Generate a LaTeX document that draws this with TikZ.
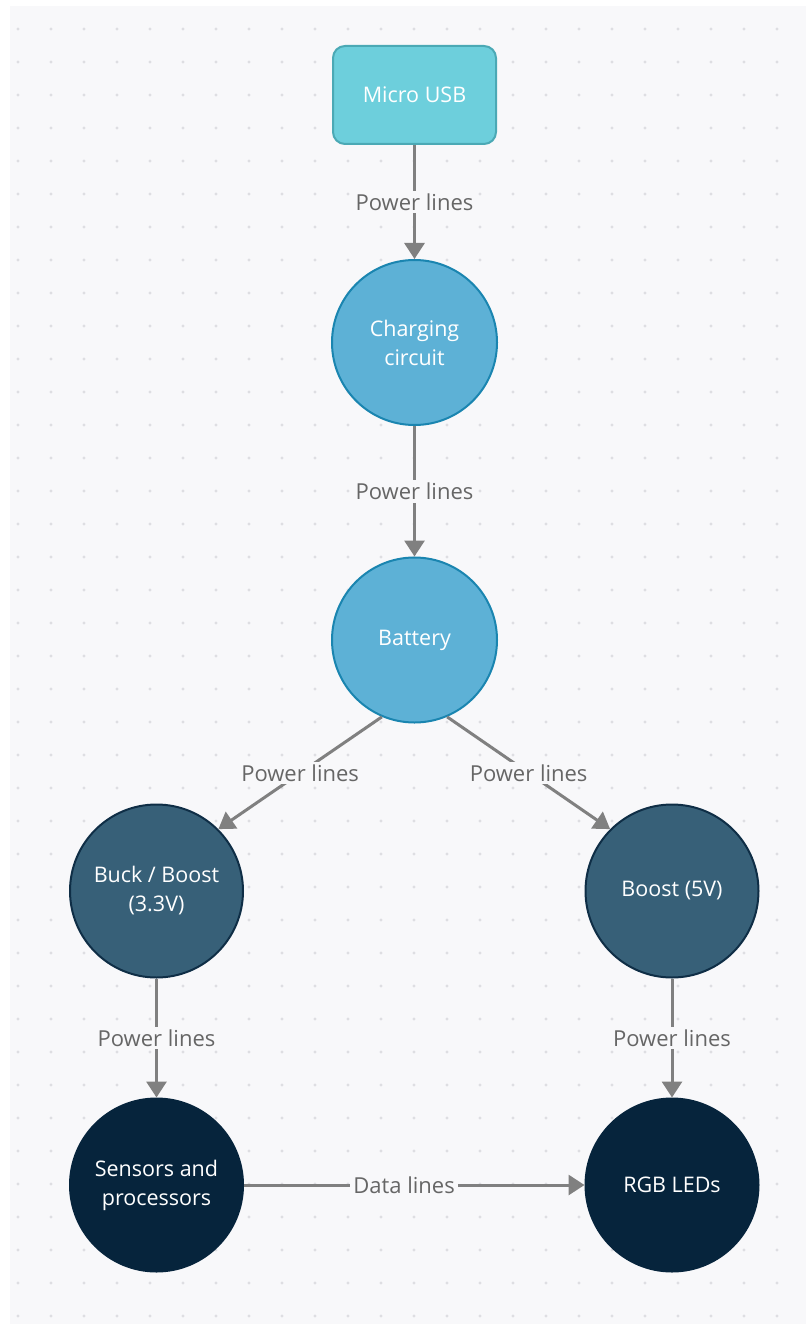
\documentclass[tikz,border=0pt]{standalone}
\usepackage{fontspec}
\setmainfont{Open Sans}
\usepackage{tikz}
\usetikzlibrary{positioning}
\usetikzlibrary{arrows.meta}
\definecolor{panelbg}{HTML}{F8F8FA}
\definecolor{dotgray}{HTML}{DEDEE2}
\definecolor{usbfill}{HTML}{6DCFDC}
\definecolor{usbline}{HTML}{4BA9B5}
\definecolor{lightfill}{HTML}{5DB1D6}
\definecolor{lightline}{HTML}{1A85B0}
\definecolor{midfill}{HTML}{376078}
\definecolor{midline}{HTML}{0F2E46}
\definecolor{deepfill}{HTML}{06243C}
\definecolor{wiregray}{HTML}{808080}
\definecolor{labelgray}{HTML}{666666}

\begin{document}
\begin{tikzpicture}[x=1pt, y=1pt, on grid,
    usbbox/.style={draw=usbline, fill=usbfill, line width=2pt, rounded corners=12pt,
      minimum width=163pt, minimum height=98pt, text=white, font=\fontsize{21.5}{29}\selectfont},
    ball/.style={circle, line width=2pt, text=white, align=center, font=\fontsize{21.5}{29}\selectfont},
    lightball/.style={ball, draw=lightline, fill=lightfill, minimum size=165pt},
    midball/.style={ball, draw=midline, fill=midfill, minimum size=173pt},
    deepball/.style={ball, draw=deepfill, fill=deepfill, minimum size=173pt},
    wire/.style={draw=wiregray, line width=3pt, -{Triangle[width=20pt,length=16pt]}},
    tag/.style={fill=panelbg, text=labelgray, inner sep=3pt, font=\fontsize{22}{24}\selectfont}]
      \useasboundingbox (0,0) rectangle (806,-1324);
      \fill[panelbg] (10,-6) rectangle (806,-1324);
      % dotted grid
      \foreach \x in {18,51,...,800}
        \foreach \y in {29,62,...,1320}
          \fill[dotgray] (\x,-\y) circle (1.6);

      \node(usb) [usbbox] at (414.5,-95) {Micro USB};
      \node(charge) [lightball, below=247.5pt of usb] {Charging\\circuit};
      \node(battery) [lightball, below=297.5pt of charge] {Battery};
      \node(buck) [midball, below left=251pt and 258pt of battery] {Buck / Boost\\(3.3V)};
      \node(boost) [midball, below right=251pt and 257.5pt of battery] {Boost (5V)};
      \node(sensors) [deepball, below=294pt of buck] {Sensors and\\processors};
      \node(leds) [deepball, below=294pt of boost] {RGB LEDs};

      \draw[wire] (usb) -- node[tag] {Power lines} (charge);
      \draw[wire] (charge) -- node[tag] {Power lines} (battery);
      \draw[wire] (battery.247) -- node[tag] {Power lines} (buck.45);
      \draw[wire] (battery.293) -- node[tag] {Power lines} (boost.135);
      \draw[wire] (buck) -- node[tag] {Power lines} (sensors);
      \draw[wire] (boost) -- node[tag] {Power lines} (leds);
      \draw[wire] (sensors) -- node[tag, pos=0.47] {Data lines} (leds);
    \end{tikzpicture}
\end{document}
